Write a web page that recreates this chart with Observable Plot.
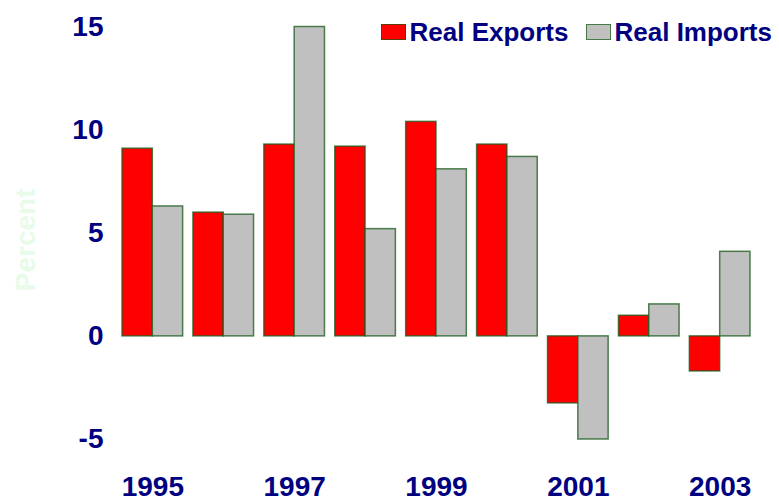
<!DOCTYPE html>
<html>
<head>
<meta charset="utf-8">
<script src="https://cdn.jsdelivr.net/npm/d3@7"></script>
<script src="https://cdn.jsdelivr.net/npm/@observablehq/plot@0.6"></script>
<style>
  html, body { margin: 0; padding: 0; background: #ffffff; }
  #wrap { position: relative; width: 779px; height: 499px; overflow: hidden; }
  #legend { position: absolute; top: 0; left: 0; font-family: Arial, "Liberation Sans", sans-serif; font-weight: bold; font-size: 26px; color: #000080; }
  .item { position: absolute; top: 19px; display: flex; align-items: center; white-space: nowrap; line-height: 26px; }
  .sw { width: 23px; height: 14px; border: 1.5px solid rgba(20,90,20,0.7); margin-right: 4px; }
</style>
</head>
<body>
<div id="wrap"></div>
<script>
const years = ["1995","1996","1997","1998","1999","2000","2001","2002","2003"];
const seriesNames = ["Real Exports", "Real Imports"];
const realExports = [9.1, 6.0, 9.3, 9.2, 10.4, 9.3, -3.25, 1.0, -1.7];
const realImports = [6.3, 5.9, 15.0, 5.2, 8.1, 8.7, -5.0, 1.55, 4.1];
const yTicks = [-5, 0, 5, 10, 15];
const xTickLabels = ["1995", "1997", "1999", "2001", "2003"];
const colors = ["#ff0000", "#c0c0c0"];
const yTitle = "Percent";

const rows = [];
years.forEach((yr, i) => {
  rows.push({year: yr, series: seriesNames[0], value: realExports[i]});
  rows.push({year: yr, series: seriesNames[1], value: realImports[i]});
});

const chart = Plot.plot({
  width: 779,
  height: 499,
  marginLeft: 122,
  marginRight: 29,
  marginTop: 26.5,
  marginBottom: 60,
  style: {fontFamily: "Arial, 'Liberation Sans', sans-serif", fontWeight: "bold", fontSize: "28px", color: "#000080", background: "#ffffff", overflow: "visible"},
  fx: {domain: years, paddingInner: 0.145, paddingOuter: 0, round: false, label: null},
  x: {domain: seriesNames, padding: 0, round: false, axis: null},
  y: {domain: [-5, 15], label: null},
  color: {domain: seriesNames, range: colors},
  marks: [
    Plot.barY(rows, {fx: "year", x: "series", y: "value", fill: "series", stroke: "#1a5a1a", strokeOpacity: 0.75, strokeWidth: 1.5}),
    Plot.axisY({ticks: yTicks, tickSize: 0, tickPadding: 19, tickFormat: d => String(d), label: null}),
    Plot.axisFx({anchor: "bottom", ticks: xTickLabels, tickSize: 0, tickPadding: 37, label: null}),
    Plot.text([yTitle], {frameAnchor: "left", rotate: -90, dx: -96, dy: 58, fill: "#e8fbe8", fontSize: 28, fontWeight: "bold", facet: "super"})
  ]
});

const wrap = document.getElementById("wrap");
wrap.appendChild(chart);

const legend = document.createElement("div");
legend.id = "legend";
const lefts = [380.5, 585.5];
seriesNames.forEach((name, i) => {
  const it = document.createElement("div");
  it.className = "item";
  it.style.left = lefts[i] + "px";
  const sw = document.createElement("span");
  sw.className = "sw";
  sw.style.background = colors[i];
  const tx = document.createElement("span");
  tx.textContent = name;
  it.appendChild(sw);
  it.appendChild(tx);
  legend.appendChild(it);
});
wrap.appendChild(legend);
</script>
</body>
</html>
